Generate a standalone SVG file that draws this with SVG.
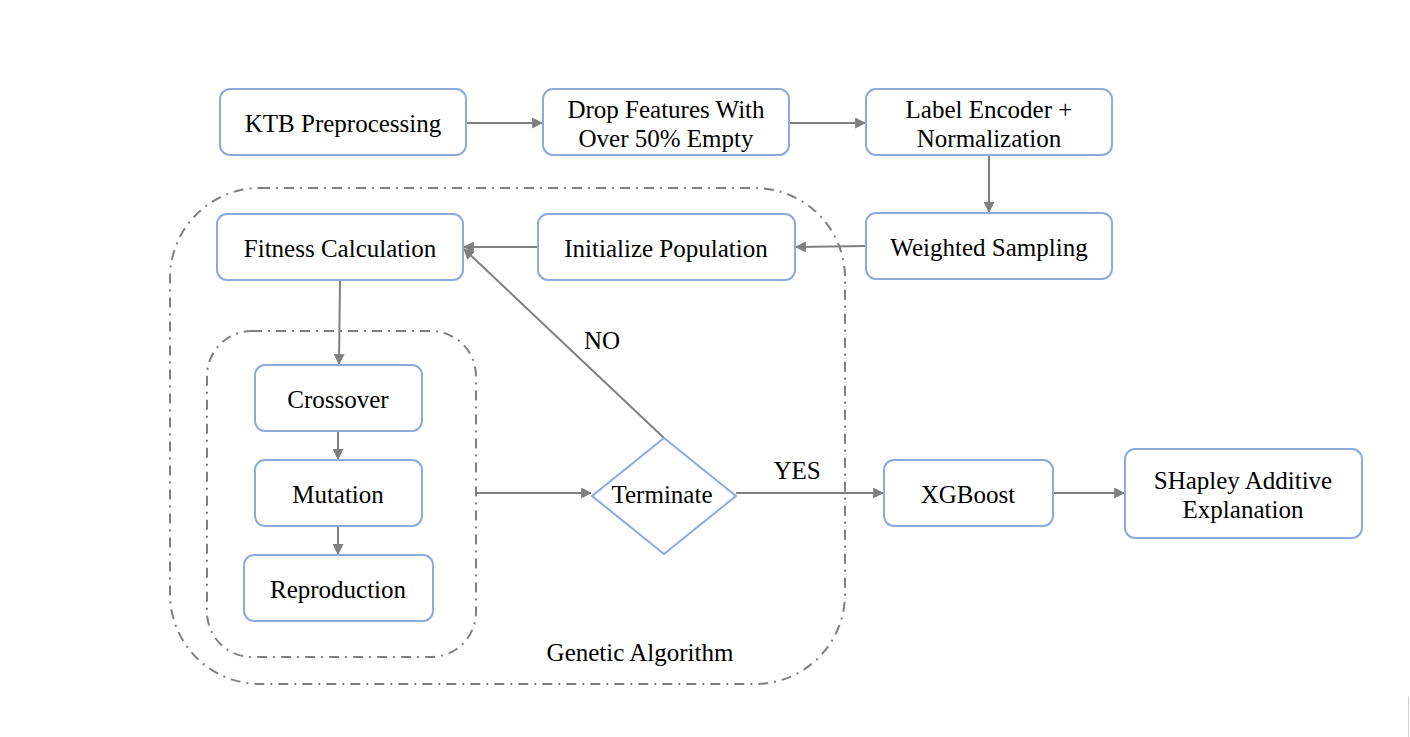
<svg xmlns="http://www.w3.org/2000/svg" width="1410" height="737" viewBox="0 0 1410 737">
<style>
.box{fill:#fff;stroke:#8eaadb;stroke-width:2}
.grp{fill:none;stroke:#7f7f7f;stroke-width:2;stroke-dasharray:10 6 2 6}
.c{fill:none;stroke:#7f7f7f;stroke-width:2}
text{font-family:"Liberation Serif","DejaVu Serif",serif;font-size:25px;fill:#000;text-anchor:middle}
</style>
<defs>
<marker id="ah" viewBox="0 0 10 10" refX="9" refY="5" markerWidth="5.5" markerHeight="5.5" orient="auto" markerUnits="strokeWidth">
<path d="M0,0 L10,5 L0,10 z" fill="#7f7f7f"/>
</marker>
</defs>
<rect width="1410" height="737" fill="#fff"/>
<g id="groups">
<rect class="grp" x="170" y="188" width="675" height="496" rx="90"/>
<rect class="grp" x="207" y="331" width="269" height="326" rx="45"/>
<text x="640" y="661">Genetic Algorithm</text>
</g>
<g id="connectors">
<line class="c" x1="466" y1="123" x2="542" y2="123" marker-end="url(#ah)"/>
<line class="c" x1="789" y1="123" x2="865" y2="123" marker-end="url(#ah)"/>
<line class="c" x1="989" y1="155" x2="989" y2="212" marker-end="url(#ah)"/>
<line class="c" x1="866" y1="246" x2="796" y2="247" marker-end="url(#ah)"/>
<line class="c" x1="538" y1="247" x2="464" y2="247" marker-end="url(#ah)"/>
<line class="c" x1="340" y1="280" x2="339" y2="364" marker-end="url(#ah)"/>
<line class="c" x1="338" y1="431" x2="338" y2="459" marker-end="url(#ah)"/>
<line class="c" x1="338" y1="526" x2="338" y2="554" marker-end="url(#ah)"/>
<line class="c" x1="476" y1="493" x2="591" y2="493" marker-end="url(#ah)"/>
<line class="c" x1="664" y1="438" x2="464" y2="249" marker-end="url(#ah)"/>
<line class="c" x1="736" y1="493" x2="883" y2="493" marker-end="url(#ah)"/>
<line class="c" x1="1053" y1="493" x2="1124" y2="493" marker-end="url(#ah)"/>
<text x="602" y="349">NO</text>
<text x="797" y="479">YES</text>
</g>
<g id="ktb"><rect class="box" x="220" y="89" width="246" height="66" rx="10"/><text x="343" y="132">KTB Preprocessing</text></g>
<g id="drop"><rect class="box" x="543" y="89" width="246" height="66" rx="10"/><text x="666" y="118">Drop Features With</text><text x="666" y="147">Over 50% Empty</text></g>
<g id="label"><rect class="box" x="866" y="89" width="246" height="66" rx="10"/><text x="989" y="118">Label Encoder +</text><text x="989" y="147">Normalization</text></g>
<g id="weighted"><rect class="box" x="866" y="213" width="246" height="66" rx="10"/><text x="989" y="256">Weighted Sampling</text></g>
<g id="init"><rect class="box" x="538" y="214" width="257" height="66" rx="10"/><text x="666" y="257">Initialize Population</text></g>
<g id="fitness"><rect class="box" x="217" y="214" width="246" height="66" rx="10"/><text x="340" y="257">Fitness Calculation</text></g>
<g id="crossover"><rect class="box" x="255" y="365" width="167" height="66" rx="10"/><text x="338" y="408">Crossover</text></g>
<g id="mutation"><rect class="box" x="255" y="460" width="167" height="66" rx="10"/><text x="338" y="503">Mutation</text></g>
<g id="reproduction"><rect class="box" x="244" y="555" width="189" height="66" rx="10"/><text x="338" y="598">Reproduction</text></g>
<g id="terminate"><polygon class="box" points="664,438 736,496 664,554 592,496"/><text x="662" y="503">Terminate</text></g>
<g id="xgboost"><rect class="box" x="884" y="460" width="169" height="66" rx="10"/><text x="968" y="503">XGBoost</text></g>
<g id="shap"><rect class="box" x="1125" y="449" width="237" height="89" rx="10"/><text x="1243" y="489">SHapley Additive</text><text x="1243" y="518">Explanation</text></g>
<line x1="1408.5" y1="697" x2="1408.5" y2="737" stroke="#d0d0d0" stroke-width="1"/>
</svg>
